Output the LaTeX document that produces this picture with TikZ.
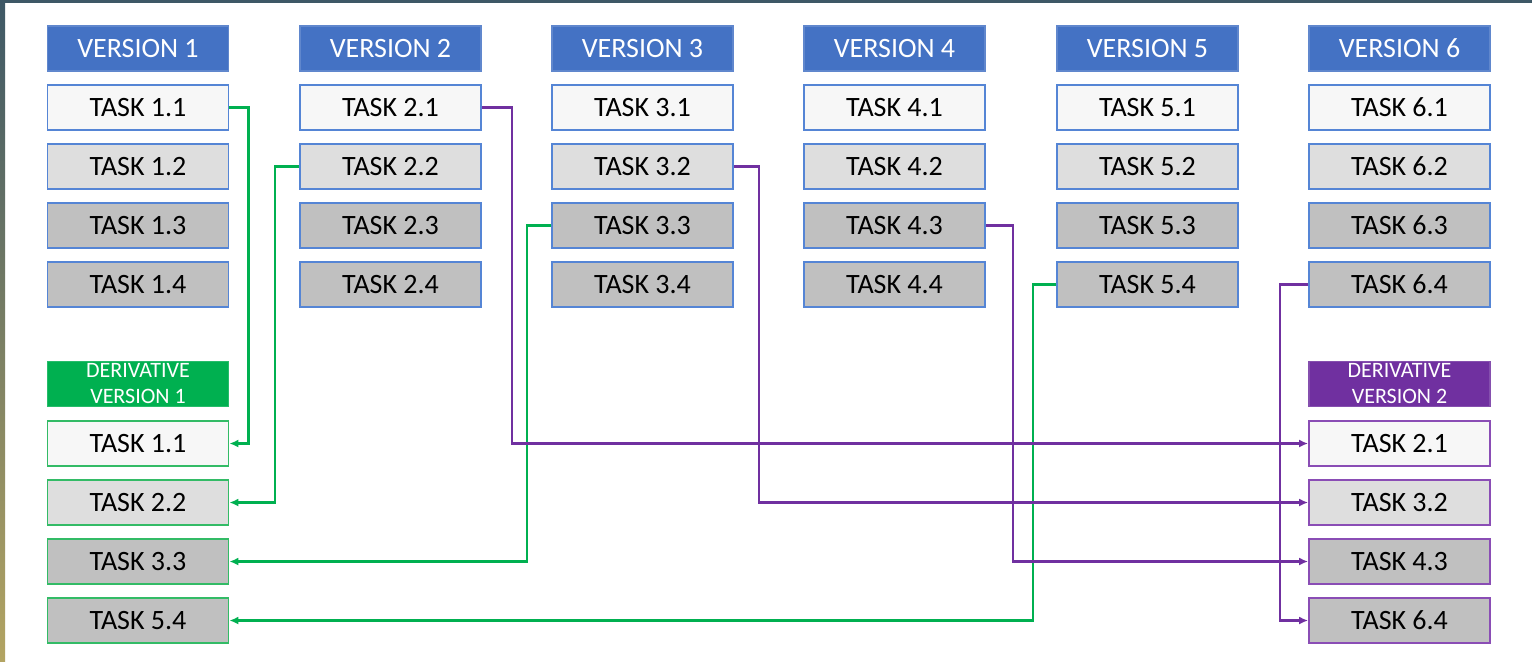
\documentclass[tikz,border=0pt]{standalone}
\usepackage{fontspec}
\setmainfont{Carlito}
\usetikzlibrary{arrows.meta}
\definecolor{hblue}{HTML}{4472C4}
\definecolor{bblue}{HTML}{5585D5}
\definecolor{hgreen}{HTML}{00B050}
\definecolor{bgreen}{HTML}{33BB66}
\definecolor{hpurple}{HTML}{7030A0}
\definecolor{bpurple}{HTML}{8A4DB5}
\definecolor{fa}{HTML}{F7F7F7}
\definecolor{fb}{HTML}{DEDEDE}
\definecolor{fc}{HTML}{C0C0C0}
\definecolor{topstrip}{HTML}{3E5866}
\definecolor{midstrip}{HTML}{8C9A8E}
\definecolor{botstrip}{HTML}{B3A462}
\begin{document}
\begin{tikzpicture}[x=0.5pt,y=-0.5pt,
  box/.style={minimum width=90.5pt,minimum height=22.5pt,inner sep=0pt,line width=0.9pt,
    font=\fontsize{14}{16}\selectfont,text=black},
  vhead/.style={box,fill=hblue,draw=hblue!85!white,text=white},
  dhead/.style={box,text=white,align=center,font=\fontsize{11}{13}\selectfont},
  vtask/.style={box,draw=bblue},
  gtask/.style={box,draw=bgreen},
  ptask/.style={box,draw=bpurple},
  gline/.style={draw=hgreen,line width=1.2pt,-{Latex[length=4.5pt,width=4pt]}},
  pline/.style={draw=hpurple,line width=1.2pt,-{Latex[length=4.5pt,width=4pt]}}]
\useasboundingbox (0,0) rectangle (1532,661);
\fill[white] (0,0) rectangle (1532,661);
\shade[top color=topstrip,middle color=midstrip,bottom color=botstrip] (0,0) rectangle (5,661);
\fill[topstrip] (0,0) rectangle (1532,3);
% columns
\foreach \i/\cx in {1/138,2/390.5,3/642.5,4/894.5,5/1147.5,6/1399.5}{
  \node[vhead] (v\i) at (\cx,48.5) {VERSION \i};
  \node[vtask,fill=fa] (t\i1) at (\cx,107.5) {TASK \i.1};
  \node[vtask,fill=fb] (t\i2) at (\cx,166.5) {TASK \i.2};
  \node[vtask,fill=fc] (t\i3) at (\cx,225.5) {TASK \i.3};
  \node[vtask,fill=fc] (t\i4) at (\cx,284.5) {TASK \i.4};
}
% derivative 1
\node[dhead,fill=hgreen,draw=hgreen!85!white] (dh1) at (138,384) {DERIVATIVE\\VERSION 1};
\node[gtask,fill=fa] (a1) at (138,443.5) {TASK 1.1};
\node[gtask,fill=fb] (a2) at (138,502.5) {TASK 2.2};
\node[gtask,fill=fc] (a3) at (138,561.5) {TASK 3.3};
\node[gtask,fill=fc] (a4) at (138,620.5) {TASK 5.4};
% derivative 2
\node[dhead,fill=hpurple,draw=hpurple!85!white] (dh2) at (1399.5,384) {DERIVATIVE\\VERSION 2};
\node[ptask,fill=fa] (b1) at (1399.5,443.5) {TASK 2.1};
\node[ptask,fill=fb] (b2) at (1399.5,502.5) {TASK 3.2};
\node[ptask,fill=fc] (b3) at (1399.5,561.5) {TASK 4.3};
\node[ptask,fill=fc] (b4) at (1399.5,620.5) {TASK 6.4};
% green connectors
\draw[gline] (t11.east) -- ++(19,0) |- (a1.east);
\draw[gline] (t22.west) -- ++(-24,0) |- (a2.east);
\draw[gline] (t33.west) -- ++(-24,0) |- (a3.east);
\draw[gline] (t54.west) -- ++(-23,0) |- (a4.east);
% purple connectors
\draw[pline] (t21.east) -- ++(30,0) |- (b1.west);
\draw[pline] (t32.east) -- ++(25,0) |- (b2.west);
\draw[pline] (t43.east) -- ++(27,0) |- (b3.west);
\draw[pline] (t64.west) -- ++(-28,0) |- (b4.west);
\end{tikzpicture}
\end{document}
